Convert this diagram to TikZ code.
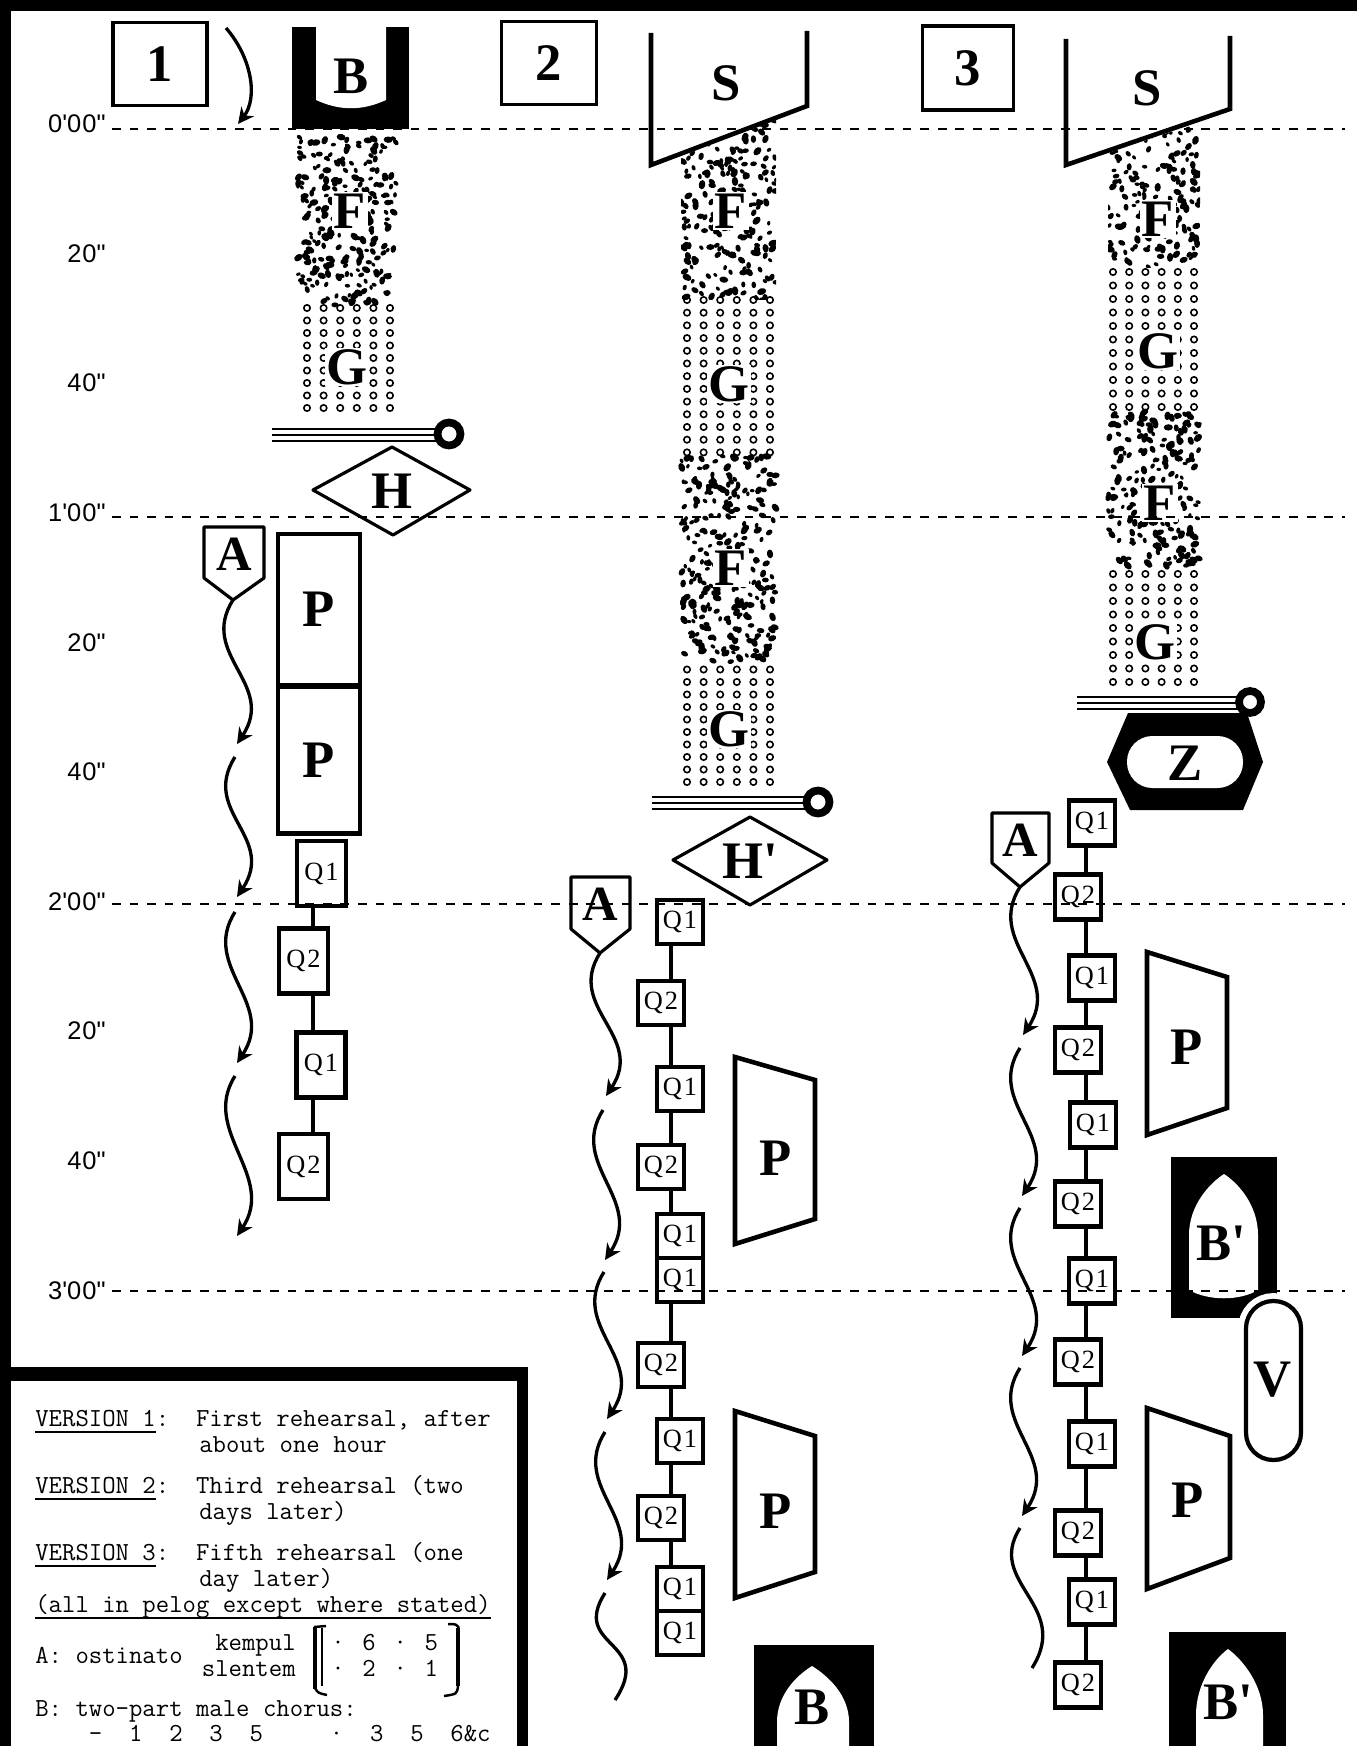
\documentclass[tikz,border=0pt]{standalone}
\usepackage{fontspec}
\setmainfont{Liberation Serif}
\newfontfamily\timefont{Liberation Sans}
\usetikzlibrary{arrows.meta}
\newcommand{\tmin}{\textquotesingle}
\newcommand{\tsec}{\textquotedbl}
\newcommand{\legul}[1]{\setbox0\hbox{#1}\rlap{\rule[-4pt]{\wd0}{1pt}}\box0}
\newcommand{\blobfield}[5]{%
    \foreach \i in {1,...,#5} {
        \pgfmathsetmacro\bx{#1+rnd*(#2-#1)}
        \pgfmathsetmacro\by{#3+rnd*(#4-#3)}
        \pgfmathsetmacro\br{2.3+rnd*2.4}
        \pgfmathsetmacro\ba{rnd*180}
        \fill[rotate around={\ba:(\bx,\by)}] (\bx,\by) ellipse [x radius=\br, y radius=0.7*\br];
    }%
}
\newcommand{\holefield}[5]{%
    \foreach \hc in {0,...,5} \foreach \hr in {0,...,#4}
        \draw[hole] (#1+\hc*#3, #2+\hr*#5) circle [radius=3.2];%
}
\tikzset{
    letter/.style={font=\bfseries\fontsize{30}{36}\selectfont, inner sep=0pt},
    label on/.style={letter, fill=white, inner sep=1pt},
    verbox/.style={draw, line width=2pt, letter, minimum width=1.88cm, minimum height=1.66cm},
    qbox/.style={draw, line width=2.8pt, font=\fontsize{15}{18}\selectfont\addfontfeature{LetterSpace=8}, inner sep=0pt, minimum width=0.92cm, minimum height=0.88cm},
    pbox/.style={draw, line width=2.6pt, letter, minimum width=1.64cm},
    qlink/.style={line width=2.8pt},
    shape line/.style={line width=2.6pt},
    thin shape/.style={line width=1.8pt, line join=round},
    timeline/.style={line width=1.1pt, dash pattern=on 5pt off 5pt},
    timelabel/.style={font=\timefont\fontsize{14.5}{17}\selectfont\addfontfeature{LetterSpace=4}, anchor=east, inner sep=0pt},
    wave/.style={line width=1.9pt},
    wavetip/.style={wave, -{Stealth[length=9pt, width=9pt]}},
    legend/.style={font=\ttfamily\fontsize{14.8}{17}\selectfont\addfontfeature{FakeBold=1.2}, anchor=base west, inner sep=0pt},
    hole/.style={line width=0.9pt},
    wire/.style={line width=1.3pt},
    ring/.style={line width=4.4pt},
}
\begin{document}
\begin{tikzpicture}[x=0.02cm, y=-0.02cm]
    \path[use as bounding box, clip] (0,0) rectangle (1357,1746);
    \pgfmathsetseed{1357}
    \fill (0,0) rectangle (1357,11);
    \fill (0,0) rectangle (11,1746);

    \foreach \k/\lab in {0/{0\tmin00\tsec}, 1/{20\tsec}, 2/{40\tsec}, 3/{1\tmin00\tsec}, 4/{20\tsec}, 5/{40\tsec}, 6/{2\tmin00\tsec}, 7/{20\tsec}, 8/{40\tsec}, 9/{3\tmin00\tsec}}
        \node[timelabel] (t\k) at (106, 124+\k*129.6) {\lab};

    \node[verbox] (ver1) at (160,64) {1};
    \draw[wavetip] (226,28) .. controls (252,58) and (258,98) .. (238,124);
    \fill (292,27) rectangle (409,129);
    \fill[white] (316,26) -- (316,100) .. controls (340,111) and (362,111) .. (386,100) -- (386,26) -- cycle;
    \node[letter] (b1) at (351,76) {B};
    \blobfield{298}{396}{136}{306}{250}
    \holefield{307}{308}{16.6}{8}{12.5}
    \node[label on] (f1) at (350,211) {F};
    \node[label on] (g1) at (347,367) {G};
    \foreach \dy in {-6,0,6}
        \draw[wire] (272,435+\dy) -- (437,435+\dy);
    \draw[ring] (449,434) circle [radius=11.5];
    \draw[thin shape] (313,490) -- (392,447) -- (470,490) -- (393,535) -- cycle;
    \node[letter] (h1) at (392,491) {H};
    \draw[thin shape] (204,527) -- (264,527) -- (264,578) -- (233,600) -- (204,578) -- cycle;
    \node[letter, font=\bfseries\fontsize{28}{32}\selectfont] (a1) at (234,554) {A};
    \coordinate (a1tip) at (233,600);
    \node[pbox, minimum height=3.02cm] (c1p1) at (319,609.5) {P};
    \node[pbox, minimum height=2.94cm] (c1p2) at (319,760) {P};
    \foreach \n/\x/\y/\t in {1/321.5/873.5/Q1, 2/303.5/961/Q2, 3/321/1065/Q1, 4/303.5/1166.5/Q2}
        \node[qbox, minimum width=0.98cm, minimum height=1.3cm] (c1q\n) at (\x,\y) {\t};
    \coordinate (c1rail) at (313,0);
    \foreach \a/\b in {1/2, 2/3, 3/4}
        \draw[qlink] (c1q\a.south -| c1rail) -- (c1q\b.north -| c1rail);
    \draw[wavetip] (a1tip) .. controls +(-35,55) and (277,684) .. (237,744);
    \foreach \sx/\sy/\tx/\ty in {235/757/237/897, 235/912/237/1063, 235/1076/237/1236}
        \draw[wavetip] (\sx,\sy) .. controls (\sx-35,\sy+55) and (\tx+40,\ty-60) .. (\tx,\ty);

    \node[verbox, minimum width=1.9cm] (ver2) at (549,63) {2};
    \draw[shape line] (651,33) -- (651,165) -- (807,106) -- (807,31);
    \node[letter] (s2) at (726,83) {S};
    \begin{scope}
        \clip (681,156) -- (776,120) -- (776,300) -- (681,300) -- cycle;
        \blobfield{681}{776}{116}{300}{230}
    \end{scope}
    \holefield{687}{300}{16.6}{12}{12.7}
    \blobfield{681}{776}{456}{664}{285}
    \holefield{687}{669.5}{16.6}{9}{12.5}
    \node[label on] (f2a) at (731,211) {F};
    \node[label on] (g2a) at (729,384) {G};
    \node[label on] (f2b) at (731,568) {F};
    \node[label on] (g2b) at (729,729) {G};
    \foreach \dy in {-6,0,6}
        \draw[wire] (652,803+\dy) -- (806,803+\dy);
    \draw[ring] (818,802) circle [radius=11.5];
    \draw[thin shape] (673,860) -- (750,817) -- (827,860) -- (750,905) -- cycle;
    \node[letter] (h2) at (750,861) {H\textquotesingle};
    \draw[thin shape] (571,877) -- (630,877) -- (630,929) -- (600,953) -- (571,929) -- cycle;
    \node[letter, font=\bfseries\fontsize{28}{32}\selectfont] (a2) at (600,904) {A};
    \coordinate (a2tip) at (600,953);
    \foreach \n/\x/\y/\t in {1/680/922/Q1, 2/661/1003/Q2, 3/680/1089/Q1, 4/661/1167/Q2, 5/680/1236/Q1, 6/680/1280/Q1, 7/661/1365/Q2, 8/680/1441/Q1, 9/661/1518/Q2, 10/680/1589/Q1, 11/680/1633/Q1}
        \node[qbox] (c2q\n) at (\x,\y) {\t};
    \coordinate (c2rail) at (671,0);
    \foreach \a/\b in {1/2, 2/3, 3/4, 4/5, 6/7, 7/8, 8/9, 9/10}
        \draw[qlink] (c2q\a.south -| c2rail) -- (c2q\b.north -| c2rail);
    \draw[shape line] (735,1057) -- (815,1080) -- (815,1219) -- (735,1244) -- cycle;
    \node[letter] (p2a) at (776,1158) {P};
    \draw[shape line] (735,1411) -- (815,1436) -- (815,1572) -- (735,1598) -- cycle;
    \node[letter] (p2b) at (776,1511) {P};
    \fill (754,1645) rectangle (874,1746);
    \fill[white] (777,1746) -- (777,1722) .. controls (777,1695) and (796,1676) .. (812,1666) .. controls (828,1676) and (849,1695) .. (849,1722) -- (849,1746) -- cycle;
    \node[letter] (b2) at (812,1707) {B};
    \draw[wavetip] (a2tip) .. controls +(-35,55) and (646,1036) .. (606,1096);
    \foreach \sx/\sy/\tx/\ty in {603/1110/605/1260, 604/1272/607/1419, 605/1432/607/1580}
        \draw[wavetip] (\sx,\sy) .. controls (\sx-35,\sy+55) and (\tx+40,\ty-60) .. (\tx,\ty);
    \draw[wave] (605,1593) .. controls (570,1648) and (655,1640) .. (615,1700);

    \node[verbox, minimum width=1.82cm, minimum height=1.68cm] (ver3) at (968,68) {3};
    \draw[shape line] (1066,39) -- (1066,165) -- (1230,109) -- (1230,36);
    \node[letter] (s3) at (1147,88) {S};
    \begin{scope}
        \clip (1108,153) -- (1200,122) -- (1200,268) -- (1108,268) -- cycle;
        \blobfield{1108}{1200}{118}{268}{175}
    \end{scope}
    \holefield{1113}{272}{16.2}{10}{13.5}
    \blobfield{1108}{1200}{412}{566}{205}
    \holefield{1113}{574}{16.2}{8}{13.5}
    \node[label on] (f3a) at (1158,219) {F};
    \node[label on] (g3a) at (1158,351) {G};
    \node[label on] (f3b) at (1160,503) {F};
    \node[label on] (g3b) at (1155,642) {G};
    \foreach \dy in {-6,0,6}
        \draw[wire] (1077,703+\dy) -- (1239,703+\dy);
    \draw[ring] (1250,702) circle [radius=11];
    \fill (1128,713) -- (1247,713) -- (1263,762) -- (1243,810) -- (1130,810) -- (1107,762) -- cycle;
    \fill[white, rounded corners=14.5pt] (1127,736) rectangle (1243,788);
    \node[letter] (z3) at (1185,763) {Z};
    \draw[thin shape] (992,813) -- (1049,813) -- (1049,863) -- (1020,887) -- (992,863) -- cycle;
    \node[letter, font=\bfseries\fontsize{28}{32}\selectfont] (a3) at (1020,840) {A};
    \coordinate (a3tip) at (1020,887);
    \foreach \n/\x/\y/\t in {1/1092/823/Q1, 2/1078/897/Q2, 3/1092/978/Q1, 4/1078/1050/Q2, 5/1093/1125/Q1, 6/1078/1204/Q2, 7/1092/1281/Q1, 8/1078/1362/Q2, 9/1092/1444/Q1, 10/1078/1533/Q2, 11/1092/1602/Q1, 12/1078/1685/Q2}
        \node[qbox, minimum height=0.9cm] (c3q\n) at (\x,\y) {\t};
    \coordinate (c3rail) at (1086,0);
    \foreach \a/\b in {1/2, 2/3, 3/4, 4/5, 5/6, 6/7, 7/8, 8/9, 9/10, 10/11, 11/12}
        \draw[qlink] (c3q\a.south -| c3rail) -- (c3q\b.north -| c3rail);
    \draw[shape line] (1147,952) -- (1227,977) -- (1227,1108) -- (1147,1135) -- cycle;
    \node[letter] (p3a) at (1187,1047) {P};
    \draw[shape line] (1147,1408) -- (1230,1436) -- (1230,1558) -- (1147,1589) -- cycle;
    \node[letter] (p3b) at (1188,1500) {P};
    \fill (1171,1157) rectangle (1277,1318);
    \fill[white] (1189,1290) -- (1189,1235) .. controls (1189,1205) and (1210,1183) .. (1224,1174) .. controls (1238,1183) and (1258,1205) .. (1258,1235) -- (1258,1290) .. controls (1240,1301) and (1208,1301) .. (1189,1290) -- cycle;
    \node[letter] (b3a) at (1221,1243) {B\textquotesingle};
    \draw[white, fill=white, line width=9pt, rounded corners=15.5pt] (1246,1301) rectangle (1301,1460);
    \draw[line width=2.4pt, rounded corners=15.5pt] (1246,1301) rectangle (1301,1460);
    \node[letter] (v3) at (1273,1380) {V};
    \fill (1169,1632) rectangle (1286,1746);
    \fill[white] (1196,1746) -- (1196,1715) .. controls (1196,1685) and (1213,1660) .. (1228,1649) .. controls (1243,1660) and (1263,1685) .. (1263,1715) -- (1263,1746) -- cycle;
    \node[letter] (b3b) at (1228,1702) {B\textquotesingle};
    \draw[wavetip] (a3tip) .. controls +(-35,55) and (1063,975) .. (1023,1035);
    \foreach \sx/\sy/\tx/\ty in {1020/1048/1022/1196, 1020/1208/1022/1356, 1020/1368/1022/1516}
        \draw[wavetip] (\sx,\sy) .. controls (\sx-35,\sy+55) and (\tx+40,\ty-60) .. (\tx,\ty);
    \draw[wave] (1020,1528) .. controls (985,1583) and (1072,1605) .. (1032,1668);

    \foreach \y in {129, 517, 904, 1291}
        \draw[timeline] (112,\y) -- (1345,\y);

    \fill (0,1367) rectangle (528,1381);
    \fill (517,1367) rectangle (528,1746);
    \node[legend] (v1) at (35,1426) {\legul{VERSION~1}:~~First rehearsal, after};
    \node[legend] (v1b) at (199,1452) {about one hour};
    \node[legend] (v2) at (35,1493) {\legul{VERSION~2}:~~Third rehearsal (two};
    \node[legend] (v2b) at (199,1519) {days later)};
    \node[legend] (v3l) at (35,1560) {\legul{VERSION~3}:~~Fifth rehearsal (one};
    \node[legend] (v3b) at (199,1586) {day later)};
    \node[legend] (pelog) at (35,1612) {\legul{(all~in~pelog~except~where~stated)}};
    \node[legend] (osti) at (35,1663) {A:~ostinato};
    \node[legend, anchor=base east] (kemp) at (296,1650) {kempul};
    \node[legend, anchor=base east] (slen) at (296,1676) {slentem};
    \node[legend] (kempnum) at (331,1650) {·~\,6~\,·~\,5};
    \node[legend] (slennum) at (331,1676) {·~\,2~\,·~\,1};
    \draw[line width=2.6pt] (315,1627) -- (315,1689);
    \draw[line width=1pt] (322,1628) -- (322,1686);
    \draw[line width=1.4pt] (314,1627) -- (326,1626);
    \draw[line width=1.4pt] (315,1688) .. controls (318,1693) .. (327,1695);
    \draw[line width=2.6pt] (458,1628) -- (458,1686);
    \draw[line width=1.4pt] (459,1628) .. controls (456,1624) .. (448,1624);
    \draw[line width=1.4pt] (458,1686) .. controls (457,1694) .. (444,1696);
    \node[legend] (chorus) at (35,1716) {B:~two-part male chorus:};
    \node[legend] (notes) at (35,1741) {~~~~-~~1~~2~~3~~5~~~~~·~~3~~5~~6\&c};
\end{tikzpicture}
\end{document}
